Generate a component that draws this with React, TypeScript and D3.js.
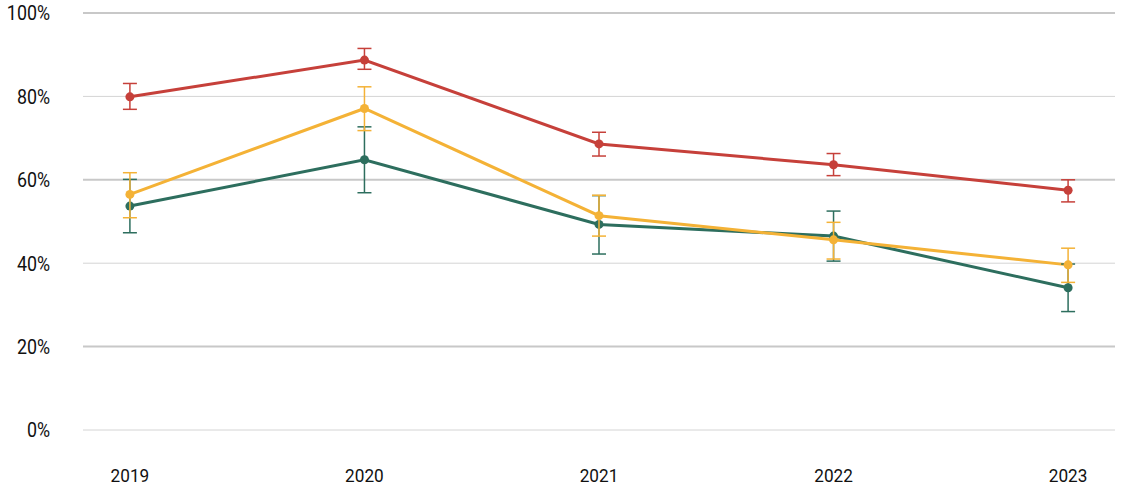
import React from "react";
import * as d3 from "d3";

const years = ["2019", "2020", "2021", "2022", "2023"];
const yTicks = [0, 20, 40, 60, 80, 100];

const redValues = [79.9, 88.7, 68.6, 63.6, 57.5];
const redLow = [76.9, 86.5, 65.7, 61.0, 54.7];
const redHigh = [83.1, 91.5, 71.4, 66.3, 60.0];

const yellowValues = [56.5, 77.1, 51.4, 45.6, 39.6];
const yellowLow = [50.9, 71.8, 46.5, 41.0, 35.4];
const yellowHigh = [61.7, 82.3, 56.3, 49.8, 43.6];

const greenValues = [53.7, 64.8, 49.3, 46.5, 34.1];
const greenLow = [47.3, 56.9, 42.2, 40.5, 28.4];
const greenHigh = [60.1, 72.7, 56.2, 52.5, 39.8];

const series = [
  { name: "green", color: "#2D6E5E", values: greenValues, low: greenLow, high: greenHigh },
  { name: "yellow", color: "#F4B236", values: yellowValues, low: yellowLow, high: yellowHigh },
  { name: "red", color: "#C6403A", values: redValues, low: redLow, high: redHigh },
];

export default function App() {
  const W = 1126;
  const H = 493;
  const x = d3.scalePoint<string>().domain(years).range([83, 1115]).padding(0.2);
  const y = d3.scaleLinear().domain([0, 100]).range([430, 13]);
  const line = d3
    .line<number>()
    .x((_, i) => x(years[i]) as number)
    .y((d) => y(d));
  const cap = 7;
  return (
    <svg
      width={W}
      height={H}
      style={{ position: "absolute", left: 0, top: 0, background: "#fff" }}
      fontFamily="Roboto, sans-serif"
    >
      {yTicks.map((t) => {
        const major = t % 40 === 20;
        return (
          <g key={t}>
            <line
              x1={83}
              x2={1115}
              y1={y(t)}
              y2={y(t)}
              stroke={major ? "#c8c8c8" : "#d4d4d4"}
              strokeWidth={major ? 2 : 1}
            />
            <text
              transform={`translate(50,${y(t)}) scale(0.87,1)`}
              dy="0.36em"
              textAnchor="end"
              fontSize={20.5}
              fill="#111"
            >
              {t}%
            </text>
          </g>
        );
      })}
      {years.map((yr) => (
        <text
          key={yr}
          transform={`translate(${x(yr)},482) scale(0.93,1)`}
          textAnchor="middle"
          fontSize={18.5}
          fill="#111"
        >
          {yr}
        </text>
      ))}
      {series.map((s) => (
        <path key={s.name + "l"} d={line(s.values) || ""} fill="none" stroke={s.color} strokeWidth={3} />
      ))}
      {series.map((s) => (
        <g key={s.name + "e"}>
          {s.values.map((v, i) => {
            const cx = x(years[i]) as number;
            return (
              <g key={i}>
                <line x1={cx} x2={cx} y1={y(s.low[i])} y2={y(s.high[i])} stroke={s.color} strokeWidth={1.5} />
                <line x1={cx - cap} x2={cx + cap} y1={y(s.low[i])} y2={y(s.low[i])} stroke={s.color} strokeWidth={1.5} />
                <line x1={cx - cap} x2={cx + cap} y1={y(s.high[i])} y2={y(s.high[i])} stroke={s.color} strokeWidth={1.5} />
                <circle cx={cx} cy={y(v)} r={4.5} fill={s.color} />
              </g>
            );
          })}
        </g>
      ))}
    </svg>
  );
}
